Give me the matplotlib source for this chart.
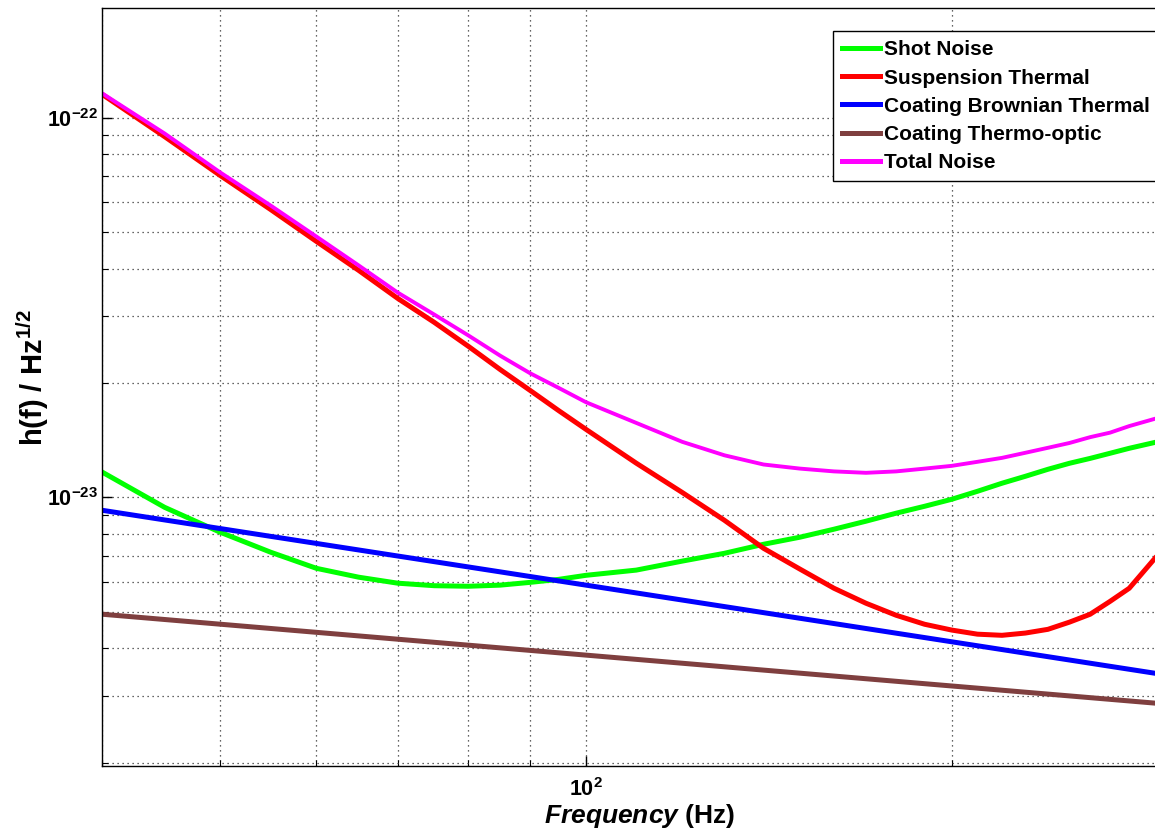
import numpy as np
import matplotlib
matplotlib.use("Agg")
import matplotlib.pyplot as plt
from matplotlib.ticker import LogLocator, FixedLocator, FuncFormatter, NullFormatter

plt.rcParams['font.family'] = ['Liberation Sans', 'DejaVu Sans']
plt.rcParams['mathtext.fontset'] = 'custom'
plt.rcParams['mathtext.rm'] = 'Liberation Sans:bold'
plt.rcParams['mathtext.bf'] = 'Liberation Sans:bold'
plt.rcParams['mathtext.it'] = 'Liberation Sans:italic:bold'
plt.rcParams['axes.unicode_minus'] = False

# frequency grid (Hz)
freq = [40, 45, 50, 55, 60, 65, 70, 75, 80, 85, 90, 95, 100, 110, 120, 130,
        140, 150, 160, 170, 180, 190, 200, 210, 220, 230, 240, 250, 260, 270,
        280, 294]

# strain noise spectra, 1/sqrt(Hz)
shot = [1.164e-23, 9.41e-24, 8.09e-24, 7.17e-24, 6.50e-24, 6.16e-24, 5.94e-24,
        5.85e-24, 5.83e-24, 5.87e-24, 5.97e-24, 6.08e-24, 6.23e-24, 6.43e-24,
        6.79e-24, 7.12e-24, 7.52e-24, 7.85e-24, 8.24e-24, 8.65e-24, 9.08e-24,
        9.47e-24, 9.88e-24, 1.037e-23, 1.089e-23, 1.136e-23, 1.185e-23,
        1.229e-23, 1.266e-23, 1.306e-23, 1.346e-23, 1.395e-23]
suspension = [1.150e-22, 8.91e-23, 7.04e-23, 5.73e-23, 4.72e-23, 3.96e-23,
              3.34e-23, 2.89e-23, 2.50e-23, 2.17e-23, 1.91e-23, 1.69e-23,
              1.51e-23, 1.23e-23, 1.03e-23, 8.70e-24, 7.34e-24, 6.47e-24,
              5.76e-24, 5.26e-24, 4.89e-24, 4.63e-24, 4.47e-24, 4.36e-24,
              4.33e-24, 4.39e-24, 4.49e-24, 4.69e-24, 4.92e-24, 5.32e-24,
              5.76e-24, 6.91e-24]
total = [1.157e-22, 9.08e-23, 7.17e-23, 5.87e-23, 4.86e-23, 4.08e-23, 3.46e-23,
         3.03e-23, 2.67e-23, 2.36e-23, 2.12e-23, 1.94e-23, 1.78e-23, 1.57e-23,
         1.40e-23, 1.29e-23, 1.22e-23, 1.19e-23, 1.17e-23, 1.16e-23, 1.17e-23,
         1.19e-23, 1.21e-23, 1.24e-23, 1.27e-23, 1.31e-23, 1.35e-23, 1.39e-23,
         1.44e-23, 1.48e-23, 1.54e-23, 1.61e-23]

# coating terms are straight power laws
coat_freq = [40, 100, 294]
coating_brownian = [9.24e-24, 5.87e-24, 3.44e-24]
coating_thermooptic = [4.92e-24, 3.84e-24, 2.87e-24]

# labelled decades
xdecades = [100]
ydecades = [1e-23, 1e-22]

fig = plt.figure(figsize=(11.55, 8.31), dpi=100)
ax = fig.add_axes([0.0887, 0.0782, 0.9113, 0.9118])

ax.loglog(freq, shot, color='#00ff00', lw=3.6, label='Shot Noise')
ax.loglog(freq, suspension, color='#ff0000', lw=3.6, label='Suspension Thermal')
ax.loglog(coat_freq, coating_brownian, color='#0000ff', lw=3.6,
          label='Coating Brownian Thermal')
ax.loglog(coat_freq, coating_thermooptic, color='#7f3f3f', lw=3.6,
          label='Coating Thermo-optic')
ax.loglog(freq, total, color='#ff00ff', lw=2.8, label='Total Noise')

ax.set_xlim(40, 294)
ax.set_ylim(1.96e-24, 1.94e-22)

decade = FuncFormatter(lambda v, p: r'$\mathbf{10^{%d}}$' % round(np.log10(v)))
for axis, majors in ((ax.xaxis, xdecades), (ax.yaxis, ydecades)):
    axis.set_major_locator(FixedLocator(majors))
    axis.set_minor_locator(LogLocator(base=10, subs=np.arange(2, 10)))
    axis.set_major_formatter(decade)
    axis.set_minor_formatter(NullFormatter())

ax.tick_params(which='both', direction='in', labelsize=15.5)
ax.tick_params(which='major', length=7, width=1)
ax.tick_params(which='minor', length=4, width=0.8)
ax.tick_params(axis='x', which='major', pad=9)
ax.grid(True, which='both', linestyle=(0, (1, 3)), color='#333333', lw=0.9)
ax.spines['right'].set_visible(False)
for s in ('left', 'bottom', 'top'):
    ax.spines[s].set_linewidth(1.0)

ax.set_xlabel(r'$\mathit{Frequency}$ (Hz)', fontsize=19, fontweight='bold')
ax.xaxis.set_label_coords(0.51, -0.047)
ax.set_ylabel(r'h(f) / Hz$^{\mathbf{1/2}}$', fontsize=21, fontweight='bold')
ax.yaxis.set_label_coords(-0.049, 0.512)

leg = fig.legend(loc='upper left', bbox_to_anchor=(833 / 1155, 1 - 31 / 831),
                 prop={'weight': 'bold', 'size': 15}, handlelength=1.8,
                 handletextpad=0.2, labelspacing=0.44, borderpad=0.45,
                 borderaxespad=0, fancybox=False, framealpha=1,
                 edgecolor='black')
leg.get_frame().set_linewidth(1.0)
for line in leg.get_lines():
    line.set_linewidth(3.6)

fig.savefig('out.png', dpi=100)
